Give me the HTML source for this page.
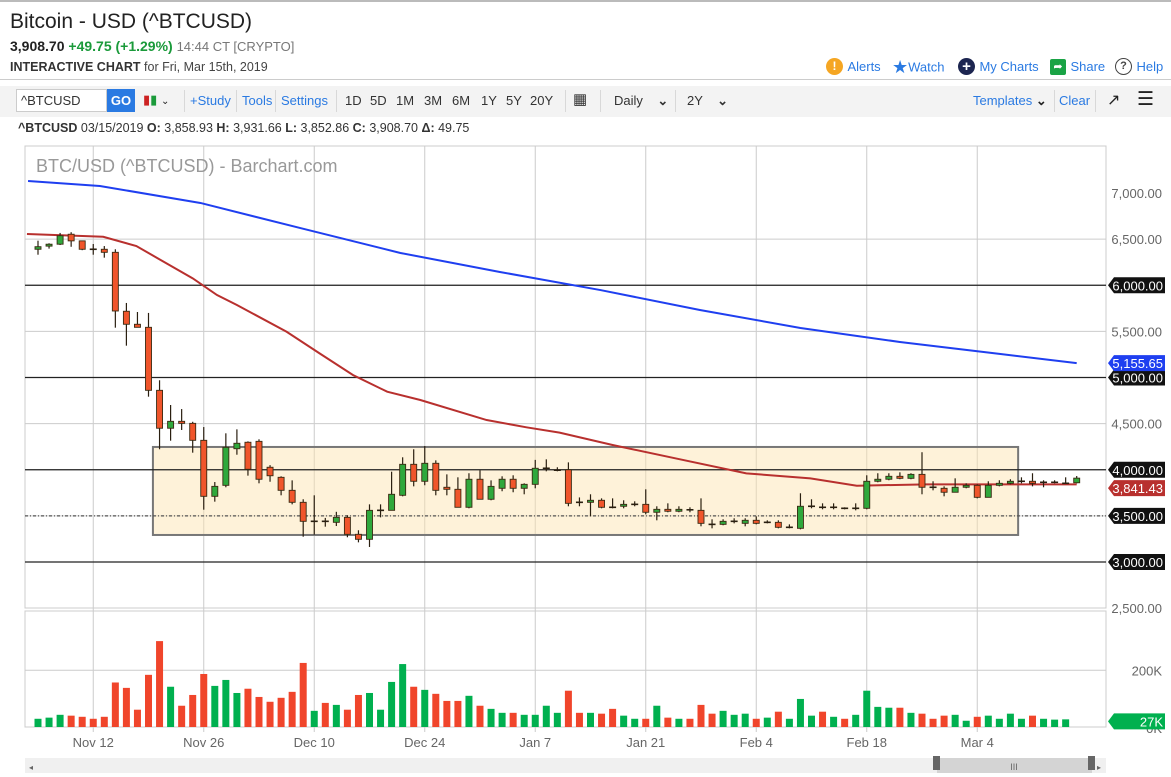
<!DOCTYPE html>
<html><head><meta charset="utf-8">
<style>
*{box-sizing:border-box;margin:0;padding:0}
body{width:1171px;height:777px;overflow:hidden;background:#fff;font-family:"Liberation Sans",sans-serif;position:relative;color:#222}
.a{position:absolute;white-space:nowrap}
.lnk{color:#2a7ae2;font-size:13px}
.tb{font-size:13px;color:#333}
.sep{position:absolute;top:90px;width:1px;height:22px;background:#d8d8d8}
</style></head><body>
<div class="a" style="left:0;top:0;width:1171px;height:2px;background:#bbb"></div>
<div class="a" style="left:10px;top:10px;font-size:21px;color:#222">Bitcoin - USD (^BTCUSD)</div>
<div class="a" style="left:10px;top:38px;font-size:14px"><b>3,908.70</b> <b style="color:#1a9a3a">+49.75 (+1.29%)</b> <span style="color:#777;font-size:13px">14:44 CT [CRYPTO]</span></div>
<div class="a" style="left:10px;top:60px;font-size:12.5px;color:#444"><b style="color:#333">INTERACTIVE CHART</b> for Fri, Mar 15th, 2019</div>
<div class="a" style="left:826px;top:58px"><span style="display:inline-block;width:17px;height:17px;border-radius:50%;background:#f5a623;color:#fff;font-size:12px;font-weight:bold;text-align:center;line-height:17px;vertical-align:middle">!</span> <span class="lnk">Alerts</span></div>
<div class="a" style="left:892px;top:57px"><span style="color:#2a7ae2;font-size:18px;vertical-align:middle">★</span><span class="lnk">Watch</span></div>
<div class="a" style="left:958px;top:58px"><span style="display:inline-block;width:17px;height:17px;border-radius:50%;background:#1c2550;color:#fff;font-size:15px;font-weight:bold;text-align:center;line-height:17px;vertical-align:middle">+</span> <span class="lnk">My Charts</span></div>
<div class="a" style="left:1050px;top:58px"><span style="display:inline-block;width:16px;height:16px;border-radius:2px;background:#1aa345;color:#fff;font-size:11px;text-align:center;line-height:16px;vertical-align:middle">➦</span> <span class="lnk">Share</span></div>
<div class="a" style="left:1115px;top:58px"><span style="display:inline-block;width:17px;height:17px;border-radius:50%;border:1.5px solid #444;color:#444;font-size:11px;font-weight:bold;text-align:center;line-height:14px;vertical-align:middle">?</span> <span class="lnk">Help</span></div>
<div class="a" style="left:0;top:79px;width:1171px;height:1px;background:#ccc"></div>
<div class="a" style="left:0;top:86px;width:1171px;height:31px;background:#f3f3f3"></div>
<div class="a" style="left:16px;top:89px;width:91px;height:23px;background:#fff;border:1px solid #ccc;font-size:13px;padding:3px 4px;color:#333">^BTCUSD</div>
<div class="a" style="left:107px;top:89px;width:28px;height:23px;background:#2a7ae2;color:#fff;font-weight:bold;font-size:13px;text-align:center;line-height:23px">GO</div>
<div class="a" style="left:143px;top:92px;font-size:13px"><span style="color:#c22">▮</span><span style="color:#1a9a3a">▮</span> <span style="font-size:10px">⌄</span></div>
<div class="sep" style="left:184px"></div>
<div class="a lnk" style="left:190px;top:93px">+Study</div>
<div class="sep" style="left:236px"></div>
<div class="a lnk" style="left:242px;top:93px">Tools</div>
<div class="sep" style="left:275px"></div>
<div class="a lnk" style="left:281px;top:93px">Settings</div>
<div class="sep" style="left:336px"></div>
<div class="a tb" style="left:345px;top:93px">1D</div>
<div class="a tb" style="left:370px;top:93px">5D</div>
<div class="a tb" style="left:396px;top:93px">1M</div>
<div class="a tb" style="left:424px;top:93px">3M</div>
<div class="a tb" style="left:452px;top:93px">6M</div>
<div class="a tb" style="left:481px;top:93px">1Y</div>
<div class="a tb" style="left:506px;top:93px">5Y</div>
<div class="a tb" style="left:530px;top:93px">20Y</div>
<div class="sep" style="left:565px"></div>
<div class="a tb" style="left:573px;top:90px;font-size:15px">▦</div>
<div class="sep" style="left:600px"></div>
<div class="a tb" style="left:614px;top:93px">Daily &nbsp;&nbsp; <b>⌄</b></div>
<div class="sep" style="left:675px"></div>
<div class="a tb" style="left:687px;top:93px">2Y &nbsp;&nbsp; <b>⌄</b></div>
<div class="a lnk" style="left:973px;top:93px">Templates <b style="color:#222">⌄</b></div>
<div class="sep" style="left:1054px"></div>
<div class="a lnk" style="left:1059px;top:93px">Clear</div>
<div class="sep" style="left:1095px"></div>
<div class="a" style="left:1107px;top:90px;font-size:16px;color:#222">↗</div>
<div class="a" style="left:1137px;top:88px;font-size:19px;color:#222">☰</div>
<div class="a" style="left:18px;top:121px;font-size:12.5px;color:#333"><b>^BTCUSD</b> 03/15/2019 <b>O:</b> 3,858.93 <b>H:</b> 3,931.66 <b>L:</b> 3,852.86 <b>C:</b> 3,908.70 <b>Δ:</b> 49.75</div>

<svg id="chart" class="a" style="left:0;top:0" width="1171" height="777"></svg>
<script>
const priceTicks=[7000,6500,6000,5500,5000,4500,4000,3500,3000,2500];
const priceTickLabels=["7,000.00","6,500.00","6,000.00","5,500.00","5,000.00","4,500.00","4,000.00","3,500.00","3,000.00","2,500.00"];
const hLevels=[6000,5000,4000,3000];
const hLevelLabels=["6,000.00","5,000.00","4,000.00","3,000.00"];
const dottedLevel=3500;
const dateIdx=[5,15,25,35,45,55,65,75,85];
const dateLabels=["Nov 12","Nov 26","Dec 10","Dec 24","Jan 7","Jan 21","Feb 4","Feb 18","Mar 4"];
const opens=[6390,6424,6445,6553,6481,6395,6390,6357,5718,5577,5544,4861,4450,4525,4503,4319,3712,3831,4228,4298,4308,4027,3918,3777,3647,3441,3445,3430,3484,3300,3246,3560,3560,3723,4059,3875,4070,3810,3788,3593,3897,3680,3799,3897,3799,3842,4005,3995,4000,3658,3647,3669,3604,3604,3625,3625,3539,3571,3550,3571,3560,3412,3408,3441,3419,3452,3430,3430,3376,3365,3604,3600,3593,3593,3582,3582,3875,3897,3929,3907,3950,3820,3799,3756,3810,3831,3701,3831,3853,3875,3875,3864,3864,3853,3859];
const highs=[6483,6455,6567,6575,6485,6447,6425,6390,5808,5710,5700,4970,4702,4658,4520,4463,3867,4395,4438,4308,4330,4050,3929,3885,3680,3723,3478,3544,3506,3344,3625,3625,3979,4135,4222,4257,4102,3950,3918,3962,3994,3885,3929,3940,3853,4107,4113,4027,4080,3700,3734,3690,3690,3669,3658,3788,3604,3636,3604,3593,3690,3463,3463,3474,3474,3495,3452,3452,3408,3745,3680,3636,3636,3593,3636,3940,3962,3962,3972,3962,4190,3875,3820,3907,3853,3842,3875,3886,3897,3918,3962,3886,3886,3918,3932];
const lows=[6331,6397,6436,6417,6380,6331,6299,5540,5345,5544,4792,4222,4315,4431,4185,3567,3654,3810,4163,3936,3853,3870,3723,3625,3274,3296,3383,3390,3268,3213,3163,3484,3560,3712,3820,3832,3723,3723,3593,3582,3680,3669,3767,3756,3734,3799,3983,3983,3604,3604,3495,3582,3582,3582,3604,3517,3452,3539,3539,3539,3387,3365,3398,3419,3387,3408,3419,3365,3365,3354,3582,3571,3571,3571,3560,3571,3864,3886,3897,3897,3734,3777,3712,3756,3799,3690,3701,3820,3842,3853,3820,3810,3853,3853,3853];
const closes=[6418,6445,6537,6481,6390,6390,6357,5721,5577,5544,4861,4450,4525,4503,4319,3712,3820,4243,4287,4005,3897,3935,3777,3647,3441,3441,3441,3484,3300,3246,3560,3560,3734,4059,3875,4070,3777,3788,3593,3897,3680,3820,3897,3799,3842,4016,4016,3995,3636,3647,3669,3593,3593,3625,3625,3539,3571,3550,3571,3566,3419,3408,3441,3441,3452,3419,3430,3376,3376,3604,3604,3593,3593,3582,3582,3875,3897,3929,3907,3950,3810,3810,3756,3810,3831,3701,3831,3853,3875,3875,3853,3864,3864,3853,3909];
const volumes=[29,33,43,40,36,29,36,157,138,61,184,303,142,75,113,187,145,166,120,135,106,89,103,124,226,57,85,78,61,113,120,61,159,222,142,131,117,92,92,110,75,64,50,50,43,43,75,50,128,50,50,47,64,40,29,29,75,33,29,29,78,47,57,43,47,29,33,54,29,99,40,54,36,29,43,128,71,68,68,50,47,29,40,43,22,36,40,29,47,29,40,29,26,27];
const ma200Idx=[-0.9,5.6,14.7,23.7,32.8,41.8,50.9,59.9,69.0,78.0,87.1,94];
const ma200=[7130,7076,6892,6621,6350,6144,5948,5732,5537,5385,5255,5156];
const ma50Idx=[-1,5.9,8.9,11,14,16.2,18,22.5,25.5,28.5,31.6,34.6,40.6,44.2,47.2,52,58.1,64.1,69.9,74.1,80.4,86.4,94];
const ma50=[6556,6526,6425,6281,6075,5894,5786,5496,5260,5027,4846,4756,4539,4460,4402,4268,4113,3961,3907,3827,3842,3842,3841];
const boxRange=[10.4,88.7,4247,3293];
const volTicks=[200];
const volTickLabels=["200K"];

const svg=document.getElementById('chart');
const NS='http://www.w3.org/2000/svg';
const L=25,R=1106,PT=146,PB=608,VT=611,VB=727;
function x(i){return 38+i*11.05;}
function y(p){return 562-(p-3000)*0.09225;}
function vy(v){return VB-v*56.7/200;}
function mk(t,a,parent){const e=document.createElementNS(NS,t);for(const k in a)e.setAttribute(k,a[k]);(parent||svg).appendChild(e);return e;}

// frame
let e;
e=mk('rect',{x:L,y:PT,width:R-L,height:PB-PT,fill:'none',stroke:'#ccc'});


e=mk('rect',{x:L,y:VT,width:R-L,height:VB-VT,fill:'none',stroke:'#ccc'});


// vertical grid + date labels
dateIdx.forEach((d,k)=>{
  e=mk('line',{x1:x(d),x2:x(d),y1:PT,y2:VB+5,stroke:'#ccc'});
  
  
  e=mk('text',{x:x(d),y:747,'text-anchor':'middle','font-size':13,fill:'#666','font-family':'Liberation Sans'});
  e.textContent=dateLabels[k];
  
  
});
// horizontal grid + labels
priceTicks.forEach((p,k)=>{
  if(p<7000&&p>2500){e=mk('line',{x1:L,x2:R,y1:y(p),y2:y(p),stroke:'#ccc'});
  
  }
  e=mk('text',{x:1162,y:y(p)+5,'text-anchor':'end','font-size':13,fill:'#666','font-family':'Liberation Sans'});
  e.textContent=priceTickLabels[k];
  
  
});
volTicks.forEach((v,k)=>{
  e=mk('line',{x1:L,x2:R,y1:vy(v),y2:vy(v),stroke:'#ccc'});
  
  
  e=mk('text',{x:1162,y:vy(v)+5,'text-anchor':'end','font-size':13,fill:'#666','font-family':'Liberation Sans'});
  e.textContent=volTickLabels[k];
  
  
});
e=mk('text',{x:1162,y:733,'text-anchor':'end','font-size':13,fill:'#666','font-family':'Liberation Sans'});e.textContent='0K';


// watermark
e=mk('text',{x:36,y:172,'font-size':18,fill:'#999','font-family':'Liberation Sans'});e.textContent='BTC/USD (^BTCUSD) - Barchart.com';


// box
e=mk('rect',{x:x(boxRange[0]),y:y(boxRange[2]),width:x(boxRange[1])-x(boxRange[0]),height:y(boxRange[3])-y(boxRange[2]),fill:'rgba(253,226,170,0.45)',stroke:'#777','stroke-width':2});


// level lines
hLevels.forEach(p=>{
  e=mk('line',{x1:L,x2:R,y1:y(p),y2:y(p),stroke:'#222','stroke-width':1.3});
  
  
});
e=mk('line',{x1:L,x2:R,y1:y(dottedLevel),y2:y(dottedLevel),stroke:'#555','stroke-width':1.2,'stroke-dasharray':'3,2,1,2'});


// moving averages
function poly(ix,vals,col,name){
  e=mk('polyline',{points:ix.map((d,k)=>x(d)+','+y(vals[k])).join(' '),fill:'none',stroke:col,'stroke-width':2});
  
  
}
poly(ma200Idx,ma200,'#1f3ff0','ma-200-line');
poly(ma50Idx,ma50,'#b8302e','ma-50-line');
// candles
opens.forEach((o,i)=>{
  const c=closes[i],up=c>=o,cx=x(i);
  const g=mk('g',{});
  
  
  mk('line',{x1:cx,x2:cx,y1:y(highs[i]),y2:y(lows[i]),stroke:'#2a1f10','stroke-width':1.2},g);
  const t=Math.min(y(o),y(c)),h=Math.max(1.2,Math.abs(y(o)-y(c)));
  if(Math.abs(y(o)-y(c))<1.5) mk('line',{x1:cx-3.5,x2:cx+3.5,y1:y(c),y2:y(c),stroke:'#2a1f10','stroke-width':1.6},g);
  else mk('rect',{x:cx-3,y:t,width:6,height:h,fill:up?'#2fa83c':'#f0552b',stroke:'#3a2a12','stroke-width':0.9},g);
});
// volume
volumes.forEach((v,i)=>{
  const up=closes[i]>=opens[i];
  e=mk('rect',{x:x(i)-3.5,y:vy(v),width:7,height:VB-vy(v),fill:up?'#00b04f':'#f0452b'});
  
  
});
// tags
function tag(yy,txt,col,name){
  const g=mk('g',{});
  
  
  mk('path',{d:`M1108 ${yy} L1114 ${yy-8} L1165 ${yy-8} L1165 ${yy+8} L1114 ${yy+8} Z`,fill:col},g);
  const t=mk('text',{x:1163,y:yy+5,'text-anchor':'end','font-size':13,fill:'#fff','font-family':'Liberation Sans'},g);t.textContent=txt;
}
hLevels.forEach((p,k)=>tag(y(p),hLevelLabels[k],'#111','level-tag'));
tag(y(dottedLevel),'3,500.00','#111','level-tag');
tag(y(ma200[ma200.length-1]),'5,155.65','#1f3ff0','ma-200-tag');
tag(y(closes[closes.length-1])+10,'3,841.43','#b8302e','ma-50-tag');
tag(vy(volumes[volumes.length-1])+2,'27K','#00b04f','volume-tag');
// scrollbar
e=mk('rect',{x:L,y:758,width:R-L,height:15,fill:'#f0f0f0'});


e=mk('rect',{x:937,y:758,width:155,height:15,fill:'#d4d4d4'});


[933,1088].forEach(hx=>{e=mk('rect',{x:hx,y:756,width:7,height:14,fill:'#666'});

});
e=mk('text',{x:1014,y:770,'font-size':9,fill:'#666','text-anchor':'middle'});e.textContent='III';


e=mk('text',{x:29,y:770,'font-size':8,fill:'#666'});e.textContent='◂';


e=mk('text',{x:1097,y:770,'font-size':8,fill:'#666'});e.textContent='▸';


</script>
</body></html>
